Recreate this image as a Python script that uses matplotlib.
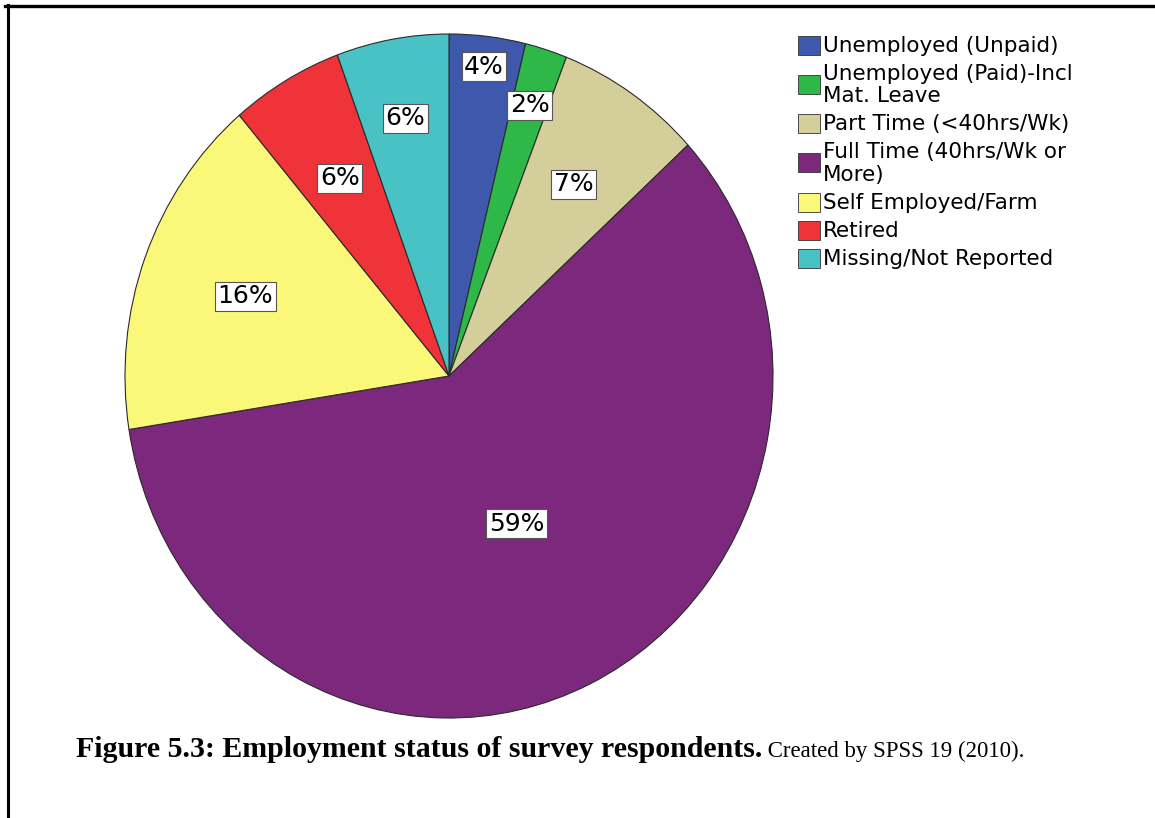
import numpy as np
import matplotlib.pyplot as plt
from matplotlib.patches import Rectangle
from matplotlib.lines import Line2D

# Employment status of respondents (% of sample)
categories = ['Unemployed (Unpaid)', 'Unemployed (Paid)-Incl\nMat. Leave',
              'Part Time (<40hrs/Wk)', 'Full Time (40hrs/Wk or\nMore)',
              'Self Employed/Farm', 'Retired', 'Missing/Not Reported']
shares = [3.8, 2.1, 7.3, 59.3, 16.3, 5.6, 5.6]
colors = ['#3e58ac', '#2eb848', '#d4ce9a', '#7b287d', '#fbf879', '#ef3338', '#48c2c5']

# radial position of each percentage box (fraction of the radius)
label_r = [0.91, 0.83, 0.68, 0.48, 0.67, 0.67, 0.765]

W, H = 1155, 818
fig = plt.figure(figsize=(W / 100, H / 100), dpi=100)

# pie, slightly taller than wide
ax = fig.add_axes([125 / W, 1 - 718 / H, 648 / W, 684 / H])
wedges, _ = ax.pie(shares, colors=colors, startangle=90, counterclock=False,
                   wedgeprops=dict(edgecolor='#2a2a2a', linewidth=0.8))
ax.set_aspect('auto')
ax.set_xlim(-1, 1)
ax.set_ylim(-1, 1)
ax.axis('off')
for w in wedges:
    w.set_clip_on(False)

for w, s, r in zip(wedges, shares, label_r):
    ang = np.deg2rad((w.theta1 + w.theta2) / 2)
    ax.text(r * np.cos(ang), r * np.sin(ang), f'{s:.0f}%', ha='center', va='center',
            fontsize=18, bbox=dict(boxstyle='square,pad=0.1', fc='white',
                                   ec='#555555', lw=0.8))

# legend drawn by hand: swatch centred on its (possibly two-line) label
y = 44
for i, (lab, c) in enumerate(zip(categories, colors)):
    if i:
        y += 28
    centers = []
    for j, line in enumerate(lab.split('\n')):
        if j:
            y += 22.5
        centers.append(y)
        fig.text(823 / W, 1 - (y + 7.8) / H, line, fontsize=15.5,
                 ha='left', va='baseline')
    mid = np.mean(centers) + 1
    fig.add_artist(Rectangle((798 / W, 1 - (mid + 9.5) / H), 22 / W, 19 / H,
                             fc=c, ec='#333333', lw=0.6, transform=fig.transFigure))

# page rules (top and left)
fig.add_artist(Line2D([5 / W, 1], [1 - 6 / H, 1 - 6 / H], color='black', lw=2.4))
fig.add_artist(Line2D([7.5 / W, 7.5 / W], [1 - 5 / H, 0], color='black', lw=2.2))

# caption
cap = fig.text(76 / W, 1 - 757 / H, 'Figure 5.3: Employment status of survey respondents.',
               family='Liberation Serif', weight='bold', fontsize=21.5, va='baseline')
fig.canvas.draw()
bb = cap.get_window_extent()
fig.text(bb.x1 / W, 1 - 757 / H, ' Created by SPSS 19 (2010).',
         family='Liberation Serif', fontsize=16.5, va='baseline')

fig.savefig('out.png', dpi=100)
